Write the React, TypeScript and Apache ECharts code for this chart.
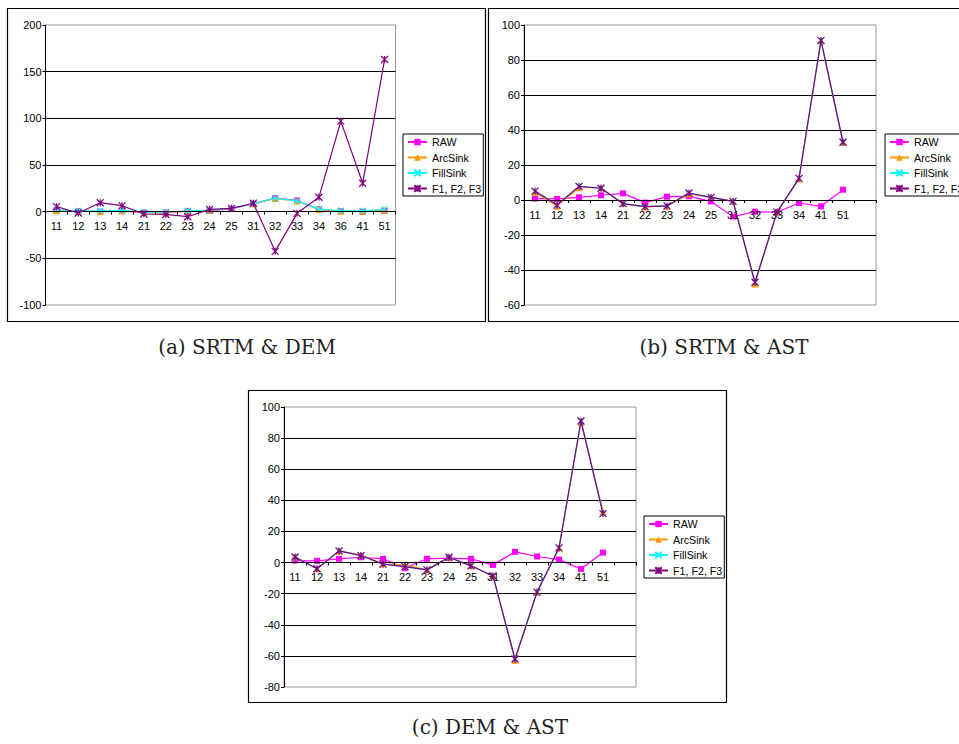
import React, { useEffect, useRef } from 'react';
import * as echarts from 'echarts';

// Series shown in every panel
const SERIES_NAMES = ['RAW', 'ArcSink', 'FillSink', 'F1, F2, F3'];

// (a) SRTM & DEM
const catsA = ['11', '12', '13', '14', '21', '22', '23', '24', '25', '31', '32', '33', '34', '36', '41', '51'];
const rawA = [1, 0.5, 0, 0.5, -1, -1, 0.5, 1, 3, 8.5, 14.5, 12, 2.5, 0.5, 0, 1];
const arcA = [1, 0.5, 0, 1, -1, -1, 0.5, 1.5, 3.5, 8.5, 14, 11.5, 2.5, 0.5, 0.5, 1.5];
const fillA = [2, 1, 1, 1.5, -0.5, -0.5, 1, 1.5, 3.5, 8.5, 14.5, 11.5, 3, 1, 1, 2.5];
const fA = [5.4, -1.4, 9.6, 6.4, -2.5, -3, -5.4, 2.5, 3.6, 9, -42.5, -1.8, 15.4, 97, 30.4, 163];
const yTicksA = [-100, -50, 0, 50, 100, 150, 200];

// (b) SRTM & AST
const catsB = ['11', '12', '13', '14', '21', '22', '23', '24', '25', '31', '32', '33', '34', '41', '51', ''];
const rawB = [0.8, 0.6, 1.5, 2.7, 3.8, -1.5, 1.9, 2.1, -0.8, -9.5, -6.7, -7, -1.7, -3.6, 5.9];
const arcB = [4.5, -3.5, 7, 7, -2, -4, -3.5, 3.5, 1.5, -0.5, -48, -7, 12, 91, 33];
const fillB = [5.1, -2.9, 7.8, 6.7, -2.1, -3.8, -3.4, 4, 1.5, -0.8, -47, -6.9, 12.4, 91.2, 33];
const fB = [5.1, -2.9, 7.8, 6.7, -2.1, -3.8, -3.4, 4, 1.5, -0.8, -47, -6.9, 12.4, 91.2, 33];
const yTicksB = [-60, -40, -20, 0, 20, 40, 60, 80, 100];

// (c) DEM & AST
const catsC = ['11', '12', '13', '14', '21', '22', '23', '24', '25', '31', '32', '33', '34', '41', '51', ''];
const rawC = [1.3, 1.1, 2.4, 3.4, 2.4, -3.6, 2.4, 2.8, 2.4, -1.5, 6.9, 3.9, 1.9, -4.1, 6.4];
const arcC = [3.6, -4, 7.5, 5, -1, -1.5, -4.7, 3.4, -2.1, -8.6, -62.8, -19, 9.4, 90.2, 32.8];
const fillC = [3.6, -4, 7.5, 4.5, -1, -2.6, -4.7, 3.4, -2.1, -8.6, -62, -19, 9.4, 91, 31.5];
const fC = [3.6, -4, 7.5, 4.5, -1, -2.6, -4.7, 3.4, -2.1, -8.6, -62, -19, 9.4, 91, 31.5];
const yTicksC = [-80, -60, -40, -20, 0, 20, 40, 60, 80, 100];

const captions = ['(a) SRTM & DEM', '(b) SRTM & AST', '(c) DEM & AST'];

const SANS = '"Liberation Sans", Arial, sans-serif';
const SERIF = '"DejaVu Serif", serif';

const STYLES = [
  { color: '#FF00FF', symbol: 'rect', size: 6, stroke: false },
  { color: '#FF9900', symbol: 'triangle', size: 7, stroke: false },
  { color: '#00FFFF', symbol: 'path://M0,0L10,10M10,0L0,10', size: 6, stroke: true },
  { color: '#800080', symbol: 'path://M0,0L10,10M10,0L0,10M5,0L5,10', size: 7, stroke: true },
];

const PANELS = [
  {
    cats: catsA, values: [rawA, arcA, fillA, fA], ticks: yTicksA,
    grid: { left: 45.5, top: 25, width: 350, height: 280 },
    legend: { left: 403, top: 134 },
    frame: { x: 7.5, y: 8.5, width: 478, height: 313 },
    caption: { x: 247, y: 347 },
  },
  {
    cats: catsB, values: [rawB, arcB, fillB, fB], ticks: yTicksB,
    grid: { left: 524, top: 25, width: 352, height: 280 },
    legend: { left: 885, top: 134 },
    frame: { x: 488.5, y: 8.5, width: 480, height: 313 },
    caption: { x: 724, y: 347 },
  },
  {
    cats: catsC, values: [rawC, arcC, fillC, fC], ticks: yTicksC,
    grid: { left: 284, top: 407, width: 352, height: 280 },
    legend: { left: 644, top: 516 },
    frame: { x: 248.5, y: 390.5, width: 478, height: 312 },
    caption: { x: 490, y: 727 },
  },
];

function buildOption() {
  const grid: any[] = [];
  const xAxis: any[] = [];
  const yAxis: any[] = [];
  const legend: any[] = [];
  const series: any[] = [];
  const graphic: any[] = [];

  PANELS.forEach((p, i) => {
    const yMin = p.ticks[0];
    const yMax = p.ticks[p.ticks.length - 1];
    // lift the category axis (line, ticks and labels) up to the y = 0 level
    const zeroLift = (p.grid.height * (0 - yMin)) / (yMax - yMin);

    grid.push({
      ...p.grid,
      show: true,
      borderColor: '#9a9a9a',
      borderWidth: 1,
      backgroundColor: '#fff',
    });
    xAxis.push({
      type: 'category',
      gridIndex: i,
      position: 'bottom',
      offset: -zeroLift,
      data: p.cats,
      boundaryGap: true,
      axisLine: { onZero: false, lineStyle: { color: '#000', width: 1 } },
      axisTick: { show: true, interval: 0, length: 3, lineStyle: { color: '#000' } },
      axisLabel: { interval: 0, margin: 9, fontSize: 11, color: '#000', fontFamily: SANS },
      splitLine: { show: false },
      z: 5,
    });
    yAxis.push({
      type: 'value',
      gridIndex: i,
      min: yMin,
      max: yMax,
      interval: p.ticks[1] - p.ticks[0],
      axisLine: { show: true, lineStyle: { color: '#000', width: 1 } },
      axisTick: { show: true, length: 3, lineStyle: { color: '#000' } },
      axisLabel: { fontSize: 11, color: '#000', margin: 4, fontFamily: SANS },
      splitLine: {
        show: true,
        showMinLine: false,
        showMaxLine: false,
        lineStyle: { color: '#000', width: 1 },
      },
    });
    legend.push({
      orient: 'vertical',
      left: p.legend.left,
      top: p.legend.top,
      data: SERIES_NAMES,
      itemWidth: 19,
      itemHeight: 8,
      itemGap: 4.5,
      padding: [2.5, 2, 2, 4],
      borderColor: '#000',
      borderWidth: 1,
      borderRadius: 0,
      backgroundColor: '#fff',
      selectedMode: false,
      textStyle: { fontSize: 10.7, lineHeight: 11, color: '#000', fontFamily: SANS },
    });
    SERIES_NAMES.forEach((name, k) => {
      const s = STYLES[k];
      series.push({
        type: 'line',
        name,
        xAxisIndex: i,
        yAxisIndex: i,
        data: p.values[k],
        symbol: s.symbol,
        symbolSize: s.size,
        showSymbol: true,
        lineStyle: { color: s.color, width: 1.2 },
        itemStyle: {
          color: s.color,
          borderColor: s.color,
          borderWidth: s.stroke ? 1.2 : 0,
        },
        z: 2 + k,
      });
    });
    graphic.push({
      type: 'rect',
      shape: p.frame,
      style: { fill: 'none', stroke: '#000', lineWidth: 1.2 },
      silent: true,
      z: 100,
    });
    graphic.push({
      type: 'text',
      x: p.caption.x,
      y: p.caption.y,
      style: {
        text: captions[i],
        font: `20px ${SERIF}`,
        fill: '#222',
        textAlign: 'center',
        textVerticalAlign: 'middle',
      },
      silent: true,
    });
  });

  return {
    animation: false,
    backgroundColor: '#fff',
    grid,
    xAxis,
    yAxis,
    legend,
    series,
    graphic,
  };
}

export default function App() {
  const ref = useRef<HTMLDivElement>(null);

  useEffect(() => {
    if (!ref.current) return;
    const chart = echarts.init(ref.current, undefined, { renderer: 'svg' });
    chart.setOption(buildOption() as any);
    return () => chart.dispose();
  }, []);

  return (
    <div
      ref={ref}
      style={{ position: 'fixed', left: 0, top: 0, width: 959, height: 744, background: '#fff' }}
    />
  );
}
